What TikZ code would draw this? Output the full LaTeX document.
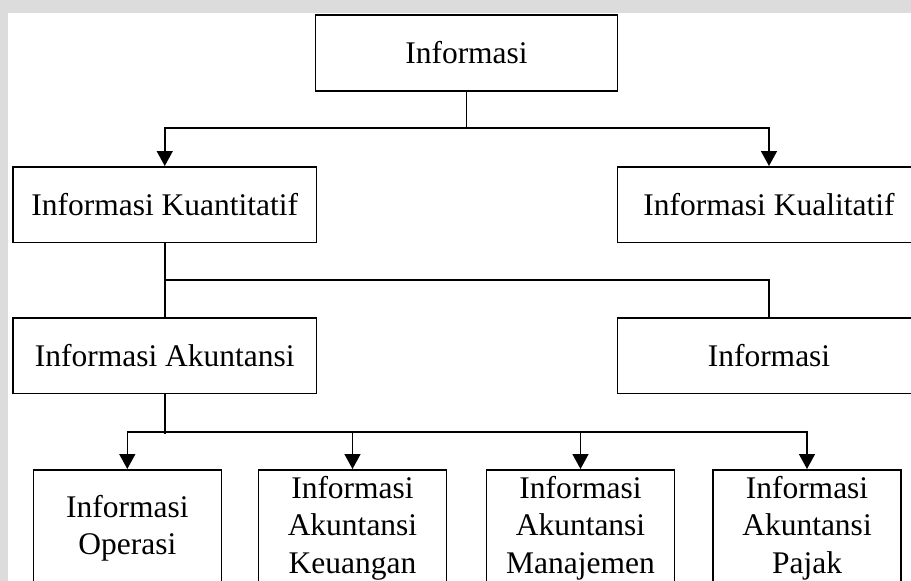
\documentclass[tikz,border=0pt]{standalone}
\usepackage{fontspec}
\setmainfont{Liberation Serif}
\usetikzlibrary{arrows.meta}
\definecolor{bggray}{HTML}{DCDCDC}
\tikzset{
  box/.style={draw, line width=1.5pt, inner sep=0pt, align=center,
    font=\fontsize{31.5}{37.5}\selectfont},
  widebox/.style={box, minimum width=303.5pt, minimum height=75.5pt},
  smallbox/.style={box, anchor=north, minimum width=188pt, minimum height=117pt},
  conn/.style={line width=1.5pt},
  arr/.style={conn, -{Triangle[length=15pt,width=16pt]}}
}
\begin{document}
\begin{tikzpicture}[x=1pt,y=-1pt]
\useasboundingbox (0,0) rectangle (911,581);
\clip (0,0) rectangle (911,581);
\fill[bggray] (0,0) rectangle (911,581);
\fill[white] (8,13) rectangle (911,581);

\node[box, minimum width=302pt, minimum height=76pt] (top) at (466.5,53) {Informasi};
\node[widebox] (kuan) at (164.75,204.5) {Informasi Kuantitatif};
\node[widebox] (kual) at (769,204.5) {Informasi Kualitatif};
\node[widebox] (akun) at (164.75,355.75) {Informasi Akuntansi};
\node[widebox] (info) at (769,355.75) {Informasi};

\node[smallbox] (ops) at (127.3,469) {Informasi\\Operasi};
\node[smallbox] (keu) at (352.5,469) {Informasi\\Akuntansi\\Keuangan};
\node[smallbox] (man) at (580.5,469) {Informasi\\Akuntansi\\Manajemen};
\node[smallbox] (paj) at (807,469) {Informasi\\Akuntansi\\Pajak};

\coordinate (j1) at (top.south |- 0,128);
\coordinate (j2) at (kuan.south |- 0,280);
\coordinate (j3) at (akun.south |- 0,432);
\coordinate (j3end) at (akun.south |- 0,434);

\draw[conn] (top.south) -- (j1);
\draw[arr] (j1) -| (kuan.north);
\draw[arr] (j1) -| (kual.north);

\draw[conn] (kuan.south) -- (akun.north);
\draw[conn] (j2) -| (info.north);

\draw[conn] (akun.south) -- (j3end);
\draw[arr] (j3) -| (ops.north);
\draw[arr] (j3) -| (keu.north);
\draw[arr] (j3) -| (man.north);
\draw[arr] (j3) -| (paj.north);
\end{tikzpicture}
\end{document}
